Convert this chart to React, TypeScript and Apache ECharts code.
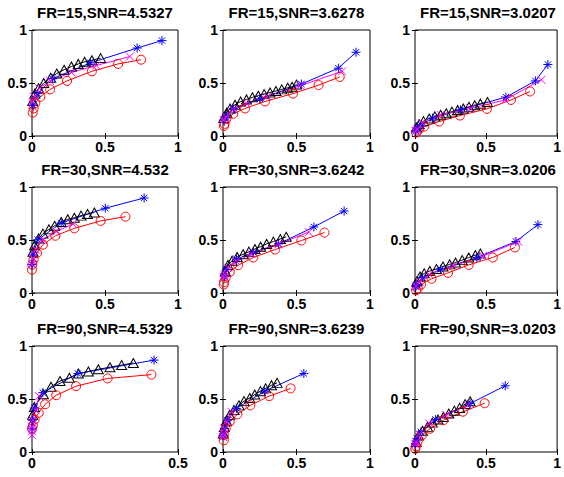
import React, { useEffect, useRef } from "react";
import * as echarts from "echarts";

// Panel titles
const titles = [
  "FR=15,SNR=4.5327", "FR=15,SNR=3.6278", "FR=15,SNR=3.0207",
  "FR=30,SNR=4.532", "FR=30,SNR=3.6242", "FR=30,SNR=3.0206",
  "FR=90,SNR=4.5329", "FR=90,SNR=3.6239", "FR=90,SNR=3.0203",
];
const xMaxes = [1, 1, 1, 1, 1, 1, 0.5, 1, 1];
const yMax = 1;
const tickStep = 0.5;

// Panel 1: FR=15, SNR=4.5327
const p1Blue = [[0.005, 0.29], [0.04, 0.40], [0.14, 0.54], [0.40, 0.69], [0.72, 0.83], [0.89, 0.90]];
const p1Magenta = [[0.003, 0.32], [0.012, 0.37], [0.05, 0.45], [0.124, 0.52], [0.27, 0.60], [0.44, 0.665], [0.67, 0.75]];
const p1Black = [[0.005, 0.33], [0.02, 0.40], [0.045, 0.45], [0.08, 0.50], [0.128, 0.55], [0.17, 0.59], [0.22, 0.625], [0.27, 0.655], [0.317, 0.68], [0.36, 0.70], [0.41, 0.715], [0.47, 0.735]];
const p1Red = [[0.005, 0.22], [0.011, 0.26], [0.023, 0.31], [0.057, 0.37], [0.124, 0.44], [0.24, 0.52], [0.41, 0.61], [0.59, 0.68], [0.747, 0.72]];

// Panel 2: FR=15, SNR=3.6278
const p2Blue = [[0.005, 0.15], [0.023, 0.19], [0.07, 0.256], [0.25, 0.35], [0.533, 0.49], [0.785, 0.64], [0.905, 0.79]];
const p2Magenta = [[0.005, 0.15], [0.02, 0.18], [0.07, 0.25], [0.16, 0.31], [0.30, 0.37], [0.526, 0.475], [0.81, 0.61]];
const p2Black = [[0.005, 0.17], [0.025, 0.22], [0.048, 0.26], [0.082, 0.295], [0.12, 0.325], [0.16, 0.345], [0.20, 0.365], [0.24, 0.38], [0.28, 0.395], [0.32, 0.41], [0.36, 0.425], [0.40, 0.44], [0.44, 0.455], [0.47, 0.465], [0.50, 0.485]];
const p2Red = [[0.007, 0.095], [0.011, 0.114], [0.023, 0.16], [0.07, 0.21], [0.15, 0.26], [0.286, 0.326], [0.476, 0.40], [0.65, 0.48], [0.794, 0.557]];

// Panel 3: FR=15, SNR=3.0207
const p3Blue = [[0.005, 0.05], [0.019, 0.073], [0.042, 0.104], [0.123, 0.168], [0.32, 0.247], [0.64, 0.367], [0.847, 0.52], [0.935, 0.674]];
const p3Magenta = [[0.005, 0.045], [0.014, 0.063], [0.053, 0.12], [0.18, 0.20], [0.39, 0.26], [0.633, 0.34], [0.889, 0.53]];
const p3Black = [[0.01, 0.08], [0.03, 0.11], [0.06, 0.14], [0.10, 0.165], [0.14, 0.185], [0.18, 0.20], [0.22, 0.215], [0.26, 0.23], [0.30, 0.245], [0.34, 0.26], [0.38, 0.275], [0.42, 0.29], [0.46, 0.305], [0.51, 0.32]];
const p3Red = [[0.007, 0.032], [0.026, 0.057], [0.065, 0.089], [0.17, 0.136], [0.316, 0.193], [0.506, 0.256], [0.675, 0.34], [0.81, 0.42]];

// Panel 4: FR=30, SNR=4.532
const p4Blue = [[0.0, 0.27], [0.007, 0.36], [0.04, 0.503], [0.2, 0.66], [0.502, 0.80], [0.768, 0.896]];
const p4Magenta = [[0.0, 0.27], [0.007, 0.33], [0.023, 0.41], [0.075, 0.50], [0.166, 0.58], [0.28, 0.65]];
const p4Black = [[0.007, 0.39], [0.018, 0.45], [0.045, 0.515], [0.075, 0.56], [0.116, 0.60], [0.155, 0.635], [0.2, 0.67], [0.245, 0.695], [0.29, 0.71], [0.336, 0.73], [0.38, 0.745], [0.427, 0.76]];
const p4Red = [[0.0, 0.22], [0.002, 0.267], [0.011, 0.314], [0.034, 0.377], [0.075, 0.456], [0.16, 0.54], [0.29, 0.61], [0.47, 0.68], [0.64, 0.72]];

// Panel 5: FR=30, SNR=3.6242
const p5Blue = [[0.011, 0.16], [0.023, 0.224], [0.092, 0.32], [0.206, 0.383], [0.378, 0.463], [0.618, 0.623], [0.824, 0.773]];
const p5Magenta = [[0.005, 0.15], [0.011, 0.176], [0.034, 0.24], [0.09, 0.30], [0.194, 0.367], [0.378, 0.46], [0.583, 0.575]];
const p5Black = [[0.016, 0.205], [0.034, 0.265], [0.062, 0.305], [0.096, 0.34], [0.137, 0.365], [0.176, 0.39], [0.217, 0.415], [0.256, 0.437], [0.297, 0.463], [0.343, 0.485], [0.39, 0.51], [0.43, 0.53]];
const p5Red = [[0.005, 0.08], [0.007, 0.102], [0.018, 0.144], [0.046, 0.198], [0.103, 0.262], [0.206, 0.335], [0.355, 0.41], [0.533, 0.495], [0.69, 0.57]];

// Panel 6: FR=30, SNR=3.0206
const p6Blue = [[0.005, 0.06], [0.014, 0.08], [0.053, 0.144], [0.18, 0.224], [0.436, 0.335], [0.71, 0.486], [0.865, 0.645]];
const p6Magenta = [[0.007, 0.064], [0.03, 0.11], [0.1, 0.176], [0.27, 0.256], [0.48, 0.35], [0.726, 0.486]];
const p6Black = [[0.014, 0.11], [0.035, 0.155], [0.065, 0.185], [0.104, 0.207], [0.151, 0.227], [0.197, 0.25], [0.244, 0.27], [0.285, 0.287], [0.332, 0.31], [0.378, 0.335], [0.425, 0.357], [0.46, 0.373]];
const p6Red = [[0.007, 0.026], [0.019, 0.042], [0.042, 0.08], [0.116, 0.134], [0.232, 0.19], [0.378, 0.265], [0.547, 0.335], [0.703, 0.43]];

// Panel 7: FR=90, SNR=4.5329
const p7Blue = [[0.0, 0.22], [0.001, 0.30], [0.008, 0.415], [0.037, 0.56], [0.157, 0.74], [0.418, 0.867]];
const p7Magenta = [[0.0, 0.158], [0.0, 0.20], [0.001, 0.237], [0.003, 0.30], [0.0125, 0.394], [0.024, 0.527]];
const p7Black = [[0.002, 0.35], [0.008, 0.425], [0.039, 0.545], [0.065, 0.615], [0.096, 0.67], [0.128, 0.70], [0.159, 0.74], [0.193, 0.76], [0.227, 0.78], [0.267, 0.80], [0.307, 0.82], [0.347, 0.84]];
const p7Red = [[0.0, 0.22], [0.003, 0.25], [0.009, 0.306], [0.023, 0.37], [0.045, 0.45], [0.083, 0.536], [0.151, 0.621], [0.259, 0.694], [0.409, 0.73]];

// Panel 8: FR=90, SNR=3.6239
const p8Blue = [[0.0, 0.158], [0.011, 0.22], [0.03, 0.30], [0.091, 0.41], [0.284, 0.574], [0.55, 0.741]];
const p8Magenta = [[0.0, 0.14], [0.003, 0.17], [0.01, 0.22], [0.025, 0.29], [0.057, 0.38]];
const p8Black = [[0.002, 0.174], [0.009, 0.235], [0.023, 0.295], [0.045, 0.35], [0.075, 0.395], [0.109, 0.44], [0.143, 0.48], [0.182, 0.51], [0.216, 0.542], [0.255, 0.574], [0.29, 0.60], [0.33, 0.63], [0.368, 0.652]];
const p8Red = [[0.005, 0.11], [0.007, 0.158], [0.018, 0.22], [0.045, 0.284], [0.098, 0.356], [0.186, 0.44], [0.314, 0.527], [0.46, 0.60]];

// Panel 9: FR=90, SNR=3.0203
const p9Blue = [[0.002, 0.079], [0.014, 0.126], [0.042, 0.19], [0.145, 0.306], [0.388, 0.457], [0.635, 0.625]];
const p9Magenta = [[0.002, 0.07], [0.007, 0.095], [0.03, 0.17], [0.1, 0.27], [0.22, 0.35], [0.37, 0.44]];
const p9Black = [[0.009, 0.095], [0.025, 0.155], [0.053, 0.2], [0.088, 0.237], [0.122, 0.277], [0.162, 0.307], [0.199, 0.33], [0.238, 0.363], [0.277, 0.39], [0.314, 0.416], [0.353, 0.452], [0.388, 0.478]];
const p9Red = [[0.002, 0.03], [0.007, 0.054], [0.018, 0.095], [0.048, 0.158], [0.106, 0.22], [0.2, 0.30], [0.337, 0.38], [0.49, 0.46]];

const panels = [
  { blue: p1Blue, magenta: p1Magenta, black: p1Black, red: p1Red },
  { blue: p2Blue, magenta: p2Magenta, black: p2Black, red: p2Red },
  { blue: p3Blue, magenta: p3Magenta, black: p3Black, red: p3Red },
  { blue: p4Blue, magenta: p4Magenta, black: p4Black, red: p4Red },
  { blue: p5Blue, magenta: p5Magenta, black: p5Black, red: p5Red },
  { blue: p6Blue, magenta: p6Magenta, black: p6Black, red: p6Red },
  { blue: p7Blue, magenta: p7Magenta, black: p7Black, red: p7Red },
  { blue: p8Blue, magenta: p8Magenta, black: p8Black, red: p8Red },
  { blue: p9Blue, magenta: p9Magenta, black: p9Black, red: p9Red },
];

const FONT = "'Liberation Sans', Arial, sans-serif";
const STAR = "path://M5,0L5,10M0,5L10,5M1.5,1.5L8.5,8.5M1.5,8.5L8.5,1.5";
const CROSS = "path://M0,0L10,10M0,10L10,0";

const colLefts = [32, 223, 415];
const colWidths = [146, 147, 146];
const rowTops = [30, 187, 346];
const rowHeight = 106;
const titleOffset = 17.5;

function buildOption() {
  const grid: any[] = [];
  const xAxis: any[] = [];
  const yAxis: any[] = [];
  const series: any[] = [];
  const graphic: any[] = [];

  const tick = { show: true, inside: true, length: 3, lineStyle: { color: "#000", width: 1 } };
  const label = { color: "#000", fontWeight: "bold", fontSize: 14, fontFamily: FONT };

  panels.forEach((p, i) => {
    const r = Math.floor(i / 3);
    const c = i % 3;
    grid.push({
      left: colLefts[c], top: rowTops[r], width: colWidths[c], height: rowHeight,
      show: true, borderColor: "#000", borderWidth: 1, backgroundColor: "transparent",
      containLabel: false,
    });
    const xBase = { gridIndex: i, type: "value", min: 0, max: xMaxes[i], interval: tickStep, splitLine: { show: false }, axisLine: { show: false }, axisTick: tick };
    xAxis.push({ ...xBase, position: "bottom", axisLabel: { ...label, margin: 4 } });
    xAxis.push({ ...xBase, position: "top", axisLabel: { show: false } });
    const yBase = { gridIndex: i, type: "value", min: 0, max: yMax, interval: tickStep, splitLine: { show: false }, axisLine: { show: false }, axisTick: tick };
    yAxis.push({ ...yBase, position: "left", axisLabel: { ...label, margin: 5 } });
    yAxis.push({ ...yBase, position: "right", axisLabel: { show: false } });

    const mk = (data: number[][], color: string, symbol: string, size: any) => ({
      type: "line",
      xAxisIndex: i * 2,
      yAxisIndex: i * 2,
      data,
      symbol,
      symbolSize: size,
      clip: false,
      lineStyle: { color, width: 1 },
      itemStyle: { color: "rgba(0,0,0,0)", borderColor: color, borderWidth: 1 },
      emphasis: { disabled: true },
      z: 2,
    });
    series.push(mk(p.black, "#000000", "triangle", [10, 9]));
    series.push(mk(p.red, "#FF0000", "circle", 9));
    series.push(mk(p.blue, "#0000FF", STAR, 9));
    series.push(mk(p.magenta, "#FF00FF", CROSS, 8));

    graphic.push({
      type: "text",
      x: colLefts[c] + colWidths[c] / 2,
      y: rowTops[r] - titleOffset,
      style: {
        text: titles[i],
        textAlign: "center",
        textVerticalAlign: "middle",
        fontSize: 15,
        fontWeight: "bold",
        fontFamily: FONT,
        fill: "#000",
      },
    });
  });

  return {
    animation: false,
    backgroundColor: "#fff",
    grid,
    xAxis,
    yAxis,
    series,
    graphic,
  };
}

export default function App() {
  const ref = useRef<HTMLDivElement>(null);
  useEffect(() => {
    if (!ref.current) return;
    const chart = echarts.init(ref.current, undefined, { renderer: "svg" });
    chart.setOption(buildOption() as any);
    return () => chart.dispose();
  }, []);
  return (
    <div
      ref={ref}
      style={{ position: "fixed", left: 0, top: 0, width: 564, height: 477, background: "#fff" }}
    />
  );
}
